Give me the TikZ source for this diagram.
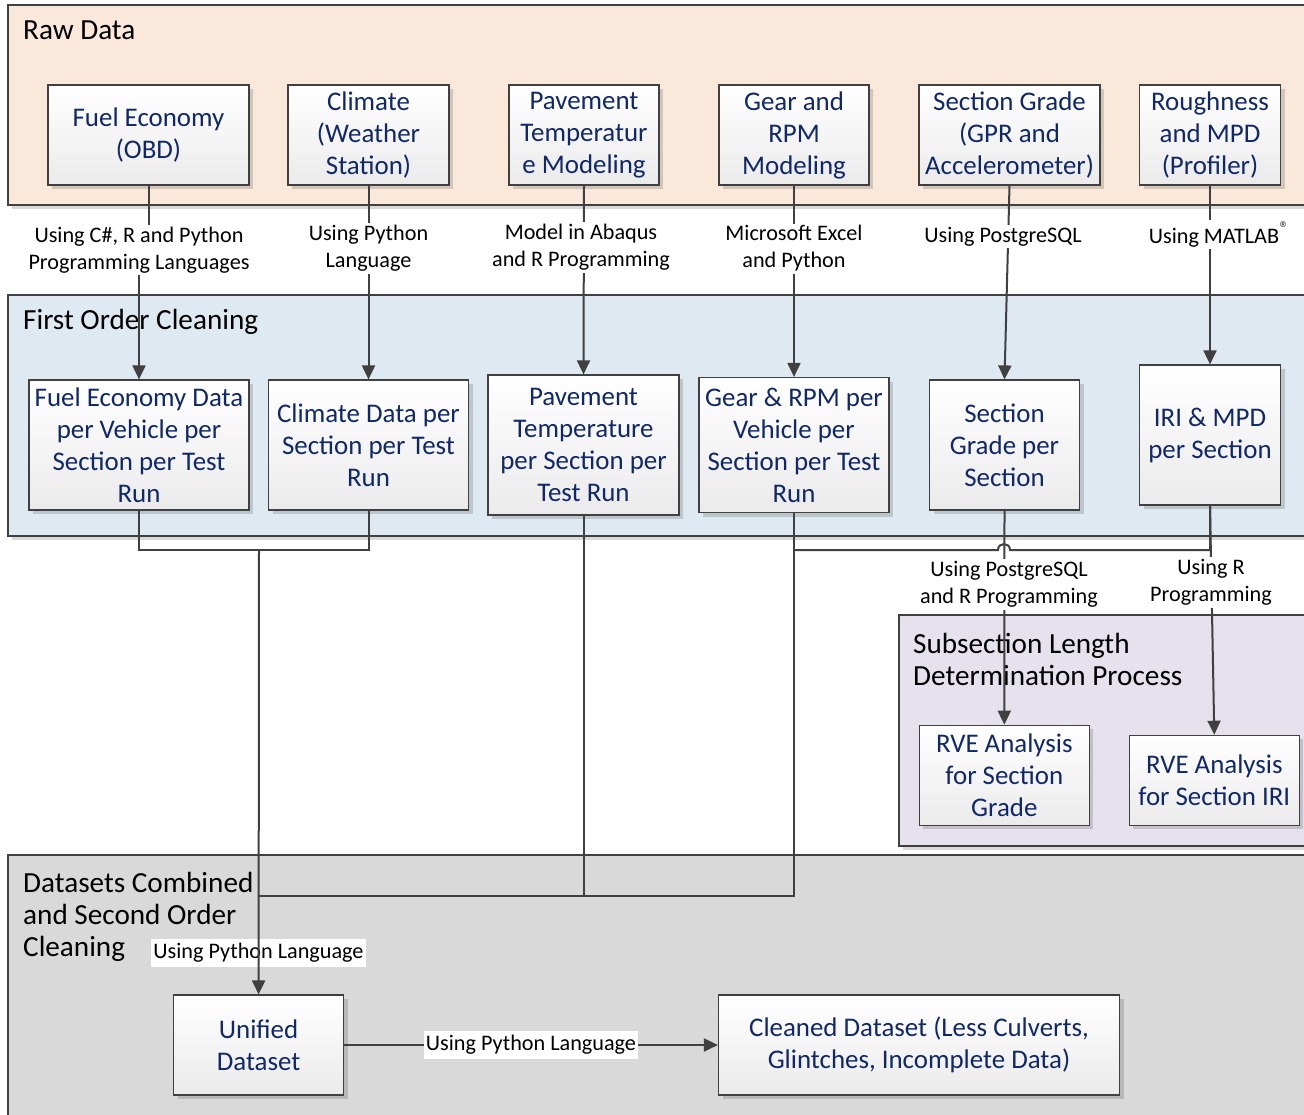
\documentclass[tikz,border=0pt]{standalone}
\usepackage{fontspec}
\setmainfont{Carlito}
\newfontfamily\markfont{DejaVu Sans}
\usetikzlibrary{arrows.meta,shadows}

\definecolor{rawbg}{RGB}{250,232,218}
\definecolor{firstbg}{RGB}{222,233,242}
\definecolor{subbg}{RGB}{229,225,237}
\definecolor{combbg}{RGB}{217,217,217}
\definecolor{navy}{RGB}{16,40,105}
\definecolor{edge}{RGB}{64,64,64}

\newcommand\boxfont{\fontsize{26.9}{32}\selectfont}
\newcommand\titlefont{\fontsize{29.2}{32}\selectfont}
\newcommand\labelfont{\fontsize{22.2}{27}\selectfont}
\newcommand\regmark{\raisebox{0.7em}{\markfont\fontsize{8}{8}\selectfont ®}}

\tikzset{
  softshadow/.style={drop shadow={shadow xshift=4pt, shadow yshift=-4pt, fill=black, opacity=0.15}},
  panel/.style={draw=edge, line width=1.2pt, softshadow},
  stagebox/.style={draw=edge, line width=1.2pt, top color=white, bottom color=black!8,
    text=navy, font=\boxfont, align=center, inner sep=0pt, softshadow,
    execute at begin node={\rule{0pt}{26pt}}},
  paneltitle/.style={font=\titlefont, text=black, inner sep=0pt, align=left},
  lab/.style={font=\labelfont, text=black, fill=white, inner sep=2pt, align=center},
  link/.style={draw=edge, line width=2pt},
  arr/.style={link, -{Triangle[width=13pt,length=14pt]}}
}

\begin{document}
\begin{tikzpicture}[x=1pt,y=-1pt]
\useasboundingbox (0,0) rectangle (1304,1114);
\clip (0,0) rectangle (1304,1114);
\fill[white] (0,0) rectangle (1304,1114);

% background panels
\path[panel, fill=rawbg]   (8,5)     rectangle (1330,205);
\path[panel, fill=firstbg] (8,295)   rectangle (1330,536);
\path[panel, fill=subbg]   (899,615) rectangle (1330,846);
\path[panel, fill=combbg]  (8,855)   rectangle (1330,1140);

% panel titles
\node[paneltitle, anchor=base west] (tRaw) at (23,39) {Raw Data};
\node[paneltitle, anchor=base west] (tFirst) at (23,329) {First Order Cleaning};
\node[paneltitle, anchor=north west] (tSub) at (913,633) {Subsection Length\\Determination Process};
\node[paneltitle, anchor=north west] (tComb) at (23,872) {Datasets Combined\\and Second Order\\Cleaning};

% raw data sources
\node[stagebox, minimum width=201pt, minimum height=100pt] (B1) at (148.5,135) {Fuel Economy\\(OBD)};
\node[stagebox, minimum width=161pt, minimum height=100pt] (B2) at (368.5,135) {Climate\\(Weather\\Station)};
\node[stagebox, minimum width=150pt, minimum height=100pt] (B3) at (584,135) {Pavement\\Temperatur\\e Modeling};
\node[stagebox, minimum width=150pt, minimum height=100pt] (B4) at (794,135) {Gear and\\RPM\\Modeling};
\node[stagebox, minimum width=181pt, minimum height=100pt] (B5) at (1009.5,135) {Section Grade\\(GPR and\\Accelerometer)};
\node[stagebox, minimum width=141pt, minimum height=100pt] (B6) at (1210,135) {Roughness\\and MPD\\(Profiler)};

% first order cleaning outputs
\node[stagebox, minimum width=220pt, minimum height=130pt] (C1) at (139,445) {Fuel Economy Data\\per Vehicle per\\Section per Test\\Run};
\node[stagebox, minimum width=200pt, minimum height=130pt] (C2) at (368.5,445) {Climate Data per\\Section per Test\\Run};
\node[stagebox, minimum width=191pt, minimum height=140pt] (C3) at (583.5,445) {Pavement\\Temperature\\per Section per\\Test Run};
\node[stagebox, minimum width=190pt, minimum height=135pt] (C4) at (794,445) {Gear \& RPM per\\Vehicle per\\Section per Test\\Run};
\node[stagebox, minimum width=150pt, minimum height=130pt] (C5) at (1004.5,445) {Section\\Grade per\\Section};
\node[stagebox, minimum width=141pt, minimum height=140pt] (C6) at (1210,435) {IRI \& MPD\\per Section};

% subsection length determination
\node[stagebox, minimum width=170pt, minimum height=100pt] (R1) at (1004.3,775.3) {RVE Analysis\\for Section\\Grade};
\node[stagebox, minimum width=170pt, minimum height=90pt] (R2) at (1214.3,780.3) {RVE Analysis\\for Section IRI};

% combined datasets
\node[stagebox, minimum width=170pt, minimum height=100pt] (U) at (258.6,1045) {Unified\\Dataset};
\node[stagebox, minimum width=401pt, minimum height=100pt] (CD) at (919,1045) {Cleaned Dataset (Less Culverts,\\Glintches, Incomplete Data)};

% label positions on the connectors
\node[lab] (L1) at (139,250) {Using C\#, R and Python\\Programming Languages};
\node[lab] (L2) at (368.5,248.5) {Using Python\\Language};
\node[lab] (L3) at (581,247.5) {Model in Abaqus\\and R Programming};
\node[lab] (L4) at (794,248.5) {Microsoft Excel\\and Python};
\node[lab] (L5) at (1003,236.5) {Using PostgreSQL};
\node[lab] (L6) at (1218,234.5) {Using MATLAB\regmark};
\node[lab] (L7) at (1009,584.5) {Using PostgreSQL\\and R Programming};
\node[lab] (L8) at (1211,582.5) {Using R\\Programming};
\node[lab, inner ysep=4pt, inner xsep=2pt] (L9) at (258.5,953) {Using Python Language};

% junction points
\coordinate (j1) at (259,550);
\coordinate (j2) at (259,896);

% connectors
\draw[arr] (B1.south) |- (L1.center) -| (C1.north);
\draw[arr] (B2.south) -- (C2.north);
\draw[arr] (B3.south) -- (C3.north);
\draw[arr] (B4.south) -- (C4.north);
\draw[arr] (B5.south) -- (C5.north);
\draw[arr] (B6.south) -- (C6.north);

\draw[link] (C1.south) |- (j1) -| (C2.south);
\draw[arr] (j1) -- (U.north);
\draw[link] (C3.south) |- (j2);
\draw[link] (C4.south) |- (j2);
\draw[link] (C6.south) |- (1010,550) .. controls (1010,542) and (998,542) .. (998,550) -- (C4.south |- j1);
\draw[arr] (C5.south) -- (R1.north);
\draw[arr] (C6.south) -- (R2.north);
\draw[arr] (U.east) -- (CD.west);

% labels drawn over the connectors
\node[lab] at (L1) {Using C\#, R and Python\\Programming Languages};
\node[lab] at (L2) {Using Python\\Language};
\node[lab] at (L3) {Model in Abaqus\\and R Programming};
\node[lab] at (L4) {Microsoft Excel\\and Python};
\node[lab] at (L5) {Using PostgreSQL};
\node[lab] at (L6) {Using MATLAB\regmark};
\node[lab] at (L7) {Using PostgreSQL\\and R Programming};
\node[lab] at (L8) {Using R\\Programming};
\node[lab, inner ysep=4pt, inner xsep=2pt] (L10) at (531,1045) {Using Python Language};
\end{tikzpicture}
\end{document}
